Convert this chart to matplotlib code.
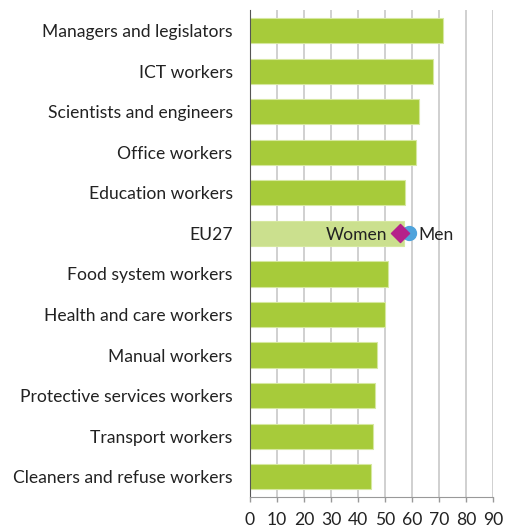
import numpy as np
import matplotlib.pyplot as plt

plt.rcParams['font.family'] = ['Lato', 'DejaVu Sans']

# Share of workers (%)
categories = [
    'Managers and legislators', 'ICT workers', 'Scientists and engineers',
    'Office workers', 'Education workers', 'EU27', 'Food system workers',
    'Health and care workers', 'Manual workers', 'Protective services workers',
    'Transport workers', 'Cleaners and refuse workers',
]
values = [71.6, 67.7, 62.7, 61.4, 57.2, 56.9, 51.2, 50.0, 47.0, 46.4, 45.4, 44.7]
eu27_women = 55.7
eu27_men = 58.8
xticks = [0, 10, 20, 30, 40, 50, 60, 70, 80, 90]

green = '#a7cb3a'
light_green = '#cbe08e'
fs = 12.6

fig = plt.figure(figsize=(5.09, 5.29), dpi=100)
ax = fig.add_axes([0.491, 0.0605, 0.478, 0.92])

y = np.arange(len(categories))
colors = [light_green if c == 'EU27' else green for c in categories]
ax.barh(y, values, height=0.62, color=colors, edgecolor='#d6e8a0',
        linewidth=0.8, zorder=2)

eu = categories.index('EU27')
ax.scatter([eu27_men], [eu], s=100, color='#4fa3dc', zorder=3)
ax.scatter([eu27_women], [eu], s=85, marker='D', color='#b5218a', zorder=4)
ax.text(eu27_women - 4.8, eu + 0.03, 'Women', ha='right', va='center',
        fontsize=fs, color='#222222', zorder=5)
ax.text(eu27_men + 3.4, eu + 0.03, 'Men', ha='left', va='center',
        fontsize=fs, color='#222222', zorder=5)

ax.set_xlim(0, 90)
ax.set_ylim(len(categories) - 0.5, -0.5)
ax.set_xticks(xticks)
ax.set_yticks(y)
ax.set_yticklabels(categories)
ax.tick_params(axis='y', length=0, pad=12.5, labelsize=fs, labelcolor='#222222')
ax.tick_params(axis='x', length=3.5, width=1, color='#999999', pad=7,
               labelsize=fs, labelcolor='#222222')
ax.xaxis.grid(True, color='#c8c8c8', linewidth=1.2, zorder=0)
ax.set_axisbelow(True)

for s in ['top', 'right']:
    ax.spines[s].set_visible(False)
ax.spines['left'].set_color('#555555')
ax.spines['bottom'].set_color('#999999')

fig.savefig('out.png', dpi=100)
